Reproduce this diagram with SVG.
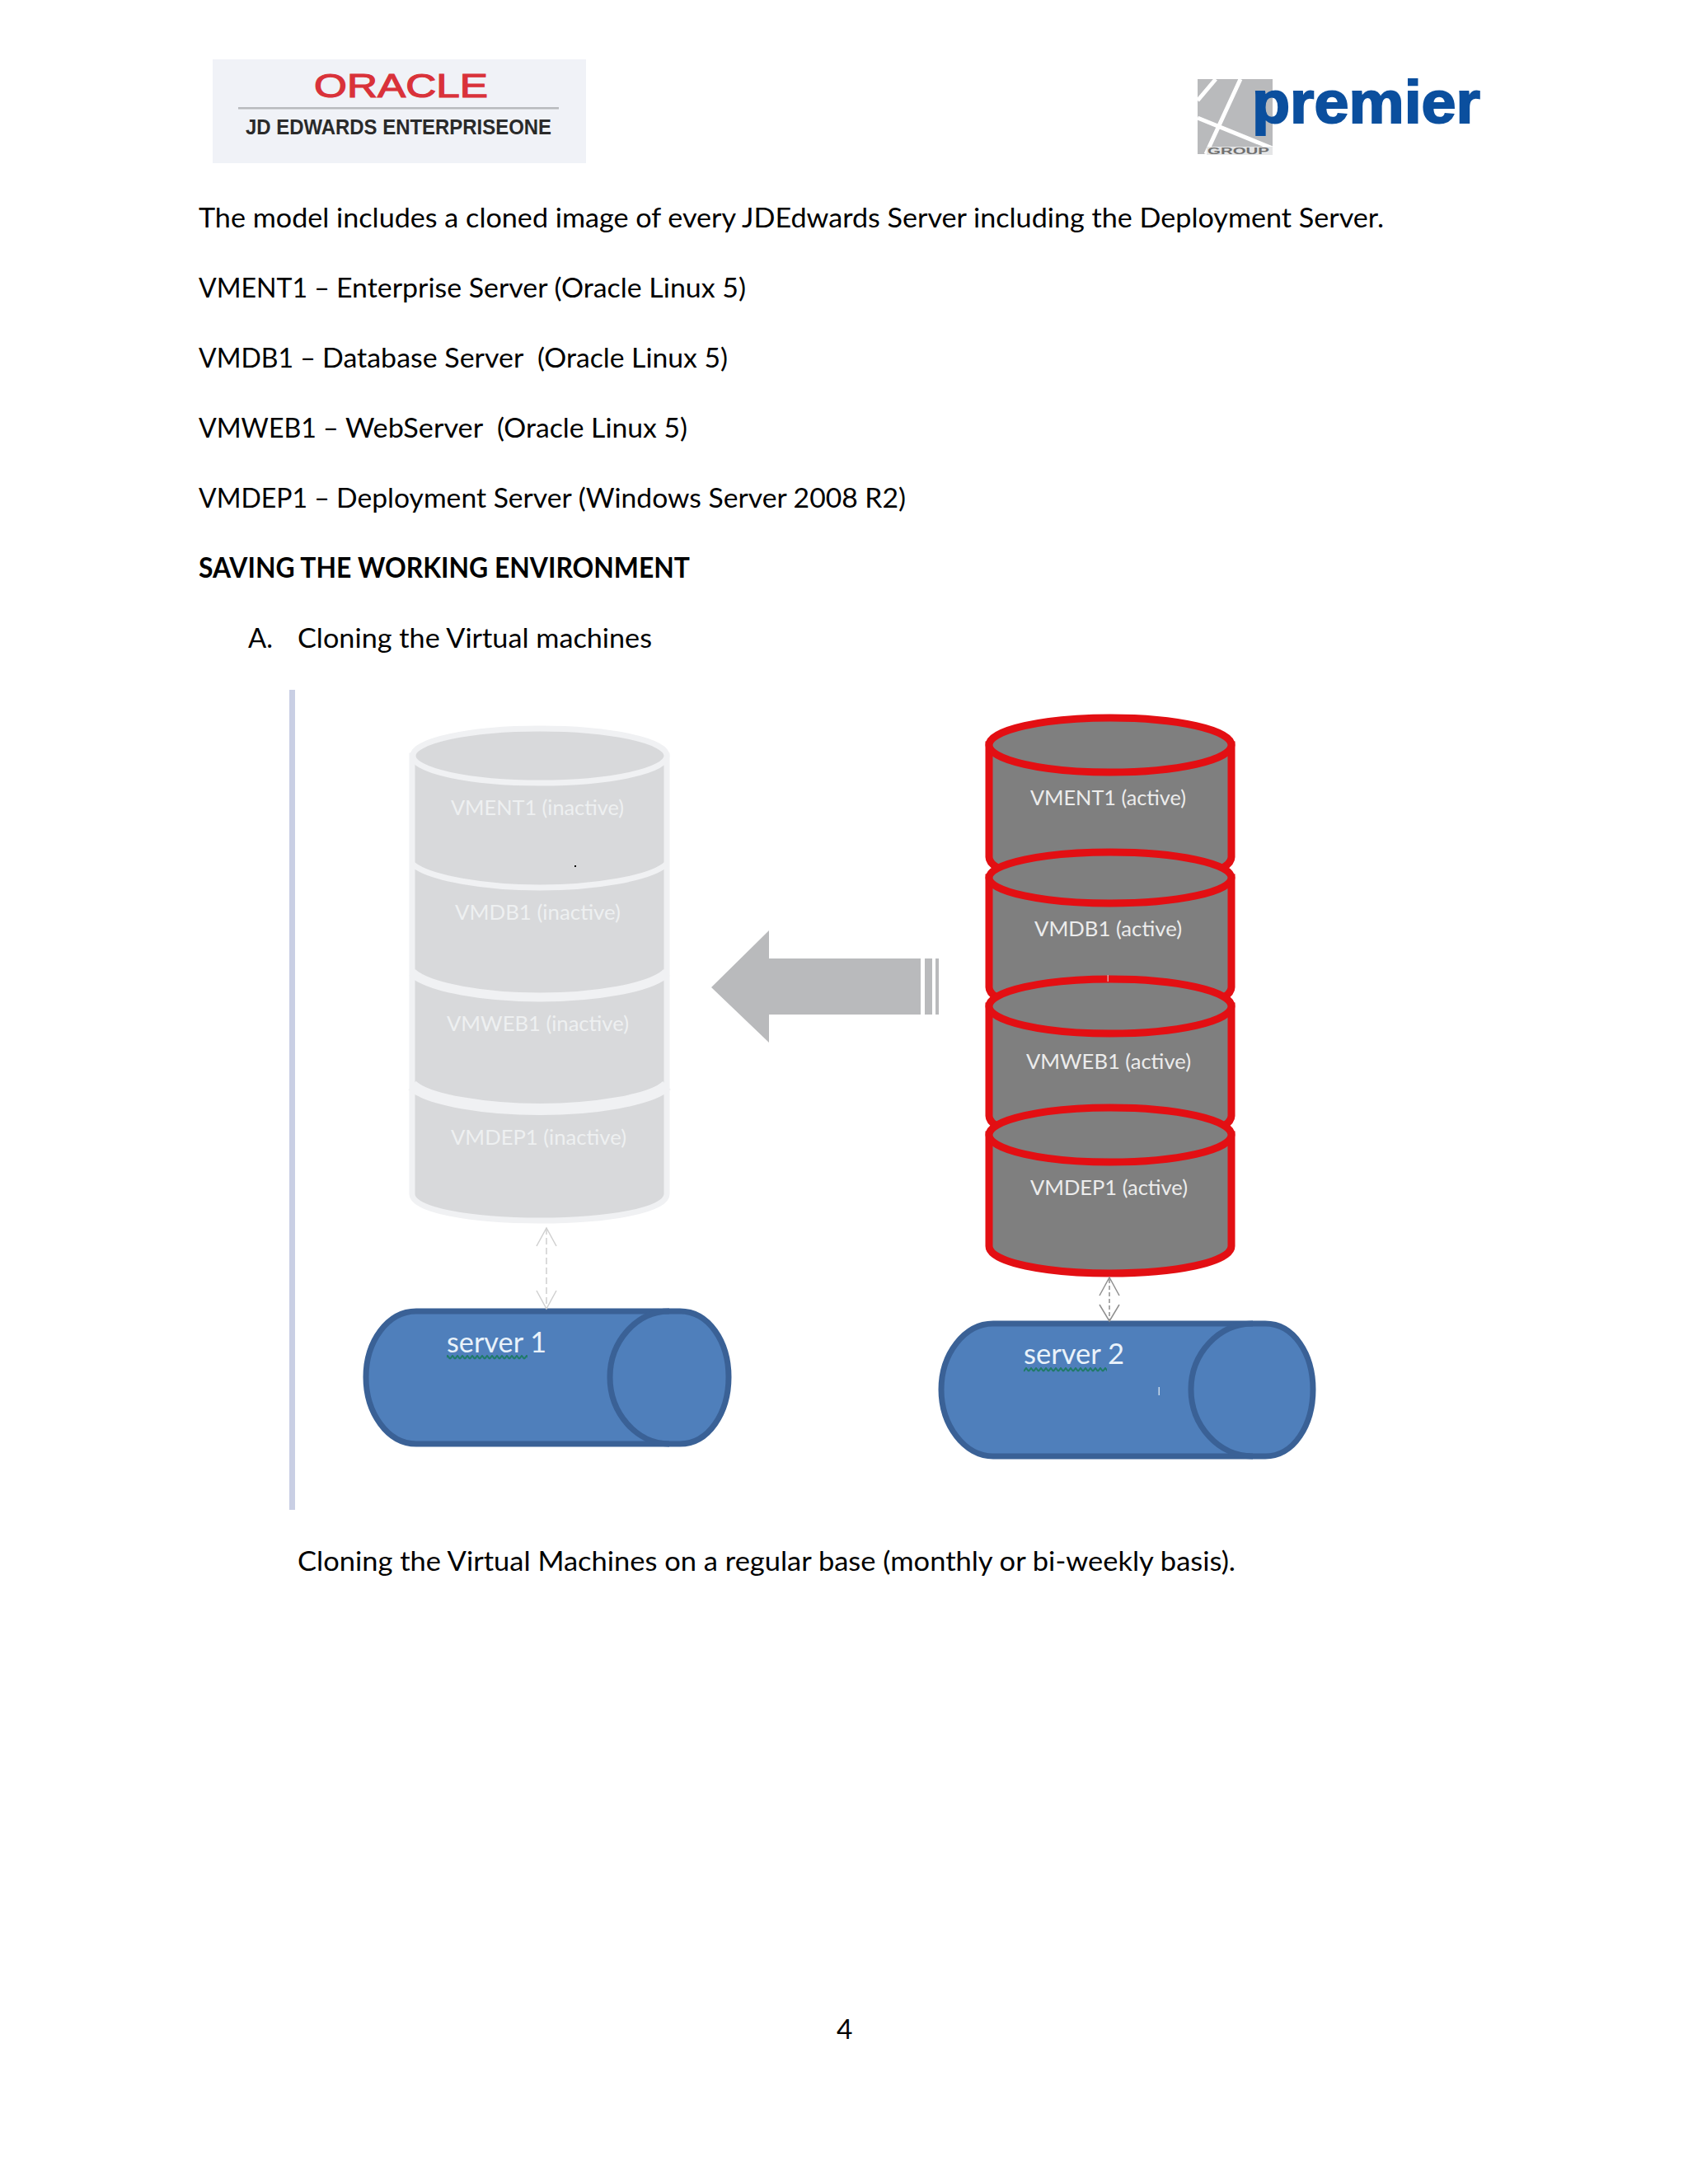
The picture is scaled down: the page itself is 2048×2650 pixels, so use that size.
<svg xmlns="http://www.w3.org/2000/svg" width="2048" height="2650" viewBox="0 0 2048 2650">
<defs>
<style>
.body{font-family:"Lato","Liberation Sans",sans-serif;font-size:33.500px;fill:#000;white-space:pre}
.in{font-family:"Lato","Liberation Sans",sans-serif;font-size:25px;fill:#eef0f1}
.ac{font-family:"Lato","Liberation Sans",sans-serif;font-size:25px;fill:#ececec}
.srv{font-family:"Lato","Liberation Sans",sans-serif;font-size:34px;fill:#e9f2fa}
.can-i{fill:#d8d9db;stroke:#f0f1f3;stroke-width:7}
.sep-i{fill:none;stroke:#f0f1f3}
.can-a{fill:#7f7f7f;stroke:#e30f13;stroke-width:9}
.can-s{fill:#4f7fbb;stroke:#3a6196;stroke-width:7}
.inner{fill:none}
.link{fill:none;stroke:#d0d0d0;stroke-width:1.500}
.link2{fill:none;stroke:#8f8f8f;stroke-width:1.500}
</style>
<pattern id="squiggle" x="0" y="0" width="6" height="6" patternUnits="userSpaceOnUse">
<path d="M0 5L3 1L6 5" fill="none" stroke="#1f7a68" stroke-width="2"/>
</pattern>
</defs>
<rect width="2048" height="2650" fill="#fff"/>
<g id="logo-oracle">
<rect x="258" y="72" width="453" height="126" fill="#f0f2f7"/>
<text x="381" y="118" font-family="Liberation Sans,sans-serif" font-size="40" fill="#d9323a" stroke="#d9323a" stroke-width="1.200" textLength="211" lengthAdjust="spacingAndGlyphs">ORACLE</text>
<rect x="289" y="130" width="389" height="2.500" fill="#b8babd"/>
<text x="298" y="163" font-family="Liberation Sans,sans-serif" font-size="26.500" font-weight="bold" fill="#2a2a2a" textLength="371" lengthAdjust="spacingAndGlyphs">JD EDWARDS ENTERPRISEONE</text>
</g>
<g id="logo-premier">
<rect x="1453" y="96" width="91" height="91" fill="#b9babc"/>
<path d="M1475 96L1453 122M1505 96L1463 187M1453 143L1544 180" stroke="#fff" stroke-width="5" fill="none"/>
<rect x="1464" y="178" width="80" height="10" fill="#e4e5e6"/>
<text x="1465" y="187" font-family="Liberation Sans,sans-serif" font-size="11.500" font-weight="bold" fill="#707070" textLength="75" lengthAdjust="spacingAndGlyphs">GROUP</text>
<text x="1519" y="149" font-family="Liberation Sans,sans-serif" font-size="72" font-weight="bold" fill="#0b4f9e" stroke="#0b4f9e" stroke-width="2" textLength="277" lengthAdjust="spacingAndGlyphs">premier</text>
</g>
<g id="body-text">
<text class="body" x="241" y="276" textLength="1438" lengthAdjust="spacingAndGlyphs">The model includes a cloned image of every JDEdwards Server including the Deployment Server.</text>
<text class="body" y="361"><tspan x="241" textLength="167" lengthAdjust="spacingAndGlyphs">VMENT1 – </tspan><tspan x="408" textLength="497" lengthAdjust="spacingAndGlyphs">Enterprise Server (Oracle Linux 5)</tspan></text>
<text class="body" y="446"><tspan x="241" textLength="150" lengthAdjust="spacingAndGlyphs">VMDB1 – </tspan><tspan x="391" textLength="261" lengthAdjust="spacingAndGlyphs">Database Server  </tspan><tspan x="652" textLength="231" lengthAdjust="spacingAndGlyphs">(Oracle Linux 5)</tspan></text>
<text class="body" y="531"><tspan x="241" textLength="178" lengthAdjust="spacingAndGlyphs">VMWEB1 – </tspan><tspan x="419" textLength="184" lengthAdjust="spacingAndGlyphs">WebServer  </tspan><tspan x="603" textLength="231" lengthAdjust="spacingAndGlyphs">(Oracle Linux 5)</tspan></text>
<text class="body" y="616"><tspan x="241" textLength="167" lengthAdjust="spacingAndGlyphs">VMDEP1 – </tspan><tspan x="408" textLength="691" lengthAdjust="spacingAndGlyphs">Deployment Server (Windows Server 2008 R2)</tspan></text>
<text class="body" x="241" y="701" font-weight="bold" textLength="596" lengthAdjust="spacingAndGlyphs">SAVING THE WORKING ENVIRONMENT</text>
<text class="body" x="301" y="786" textLength="30" lengthAdjust="spacingAndGlyphs">A.</text>
<text class="body" x="361" y="786" textLength="430" lengthAdjust="spacingAndGlyphs">Cloning the Virtual machines</text>
<text class="body" x="361" y="1906" textLength="1138" lengthAdjust="spacingAndGlyphs">Cloning the Virtual Machines on a regular base (monthly or bi-weekly basis).</text>
<text class="body" x="1015" y="2474">4</text>
</g>
<rect id="margin-bar" x="351" y="837" width="7" height="995" fill="#c9cfe4"/>
<g id="stack-inactive">
<path class="can-i" d="M500 917V1449C500 1468 570 1481 655 1481S809 1468 809 1449V917Z"/>
<ellipse class="can-i" cx="655" cy="917" rx="154" ry="33"/>
<path class="sep-i" stroke-width="7" d="M500 1048C520 1066 590 1077 655 1077S790 1066 809 1048"/>
<path class="sep-i" stroke-width="11" d="M500 1180C520 1199 590 1210 655 1210S790 1199 809 1180"/>
<path class="sep-i" stroke-width="14" d="M500 1317C520 1335 590 1346 655 1346S790 1335 809 1317"/>
<text class="in" x="547" y="989" textLength="210" lengthAdjust="spacingAndGlyphs">VMENT1 (inactive)</text>
<text class="in" x="552" y="1116" textLength="201" lengthAdjust="spacingAndGlyphs">VMDB1 (inactive)</text>
<text class="in" x="542" y="1251" textLength="221" lengthAdjust="spacingAndGlyphs">VMWEB1 (inactive)</text>
<text class="in" x="547" y="1389" textLength="213" lengthAdjust="spacingAndGlyphs">VMDEP1 (inactive)</text>
<rect x="697" y="1050" width="2" height="2" fill="#000"/>
</g>
<g id="stack-active">
<path class="can-a" d="M1200 904V1040C1200 1060 1270 1075 1347 1075S1494 1060 1494 1040V904Z"/>
<ellipse class="can-a" cx="1347" cy="904" rx="147" ry="33"/>
<path class="can-a" d="M1200 1065V1198C1200 1218 1270 1232 1347 1232S1494 1218 1494 1198V1065Z"/>
<ellipse class="can-a" cx="1347" cy="1065" rx="147" ry="31"/>
<path class="can-a" d="M1200 1221V1354C1200 1374 1270 1388 1347 1388S1494 1374 1494 1354V1221Z"/>
<ellipse class="can-a" cx="1347" cy="1221" rx="147" ry="33"/>
<path class="can-a" d="M1200 1377V1512C1200 1532 1270 1545 1347 1545S1494 1532 1494 1512V1377Z"/>
<ellipse class="can-a" cx="1347" cy="1377" rx="147" ry="33"/>
<rect x="1343.500" y="1183" width="1.500" height="8" fill="#d9a0a0"/>
<text class="ac" x="1250" y="977" textLength="189" lengthAdjust="spacingAndGlyphs">VMENT1 (active)</text>
<text class="ac" x="1255" y="1136" textLength="179" lengthAdjust="spacingAndGlyphs">VMDB1 (active)</text>
<text class="ac" x="1245" y="1297" textLength="200" lengthAdjust="spacingAndGlyphs">VMWEB1 (active)</text>
<text class="ac" x="1250" y="1450" textLength="191" lengthAdjust="spacingAndGlyphs">VMDEP1 (active)</text>
</g>
<g id="clone-arrow" fill="#b9babc">
<path d="M863 1198L933 1129V1163H1117V1231H933V1265Z"/>
<rect x="1122" y="1163" width="9" height="68"/>
<rect x="1135" y="1163" width="4" height="68"/>
</g>
<g id="server1">
<path class="can-s" d="M505 1591H825C860 1591 884 1628 884 1671S860 1752 825 1752H505C470 1752 444 1714 444 1671S470 1591 505 1591Z"/>
<path class="can-s inner" d="M812 1591C772 1591 740 1628 740 1671S772 1752 812 1752"/>
<text class="srv" x="542" y="1641" textLength="121" lengthAdjust="spacingAndGlyphs">server 1</text>
<rect x="542" y="1644" width="98" height="6" fill="url(#squiggle)"/>
</g>
<g id="server2">
<path class="can-s" d="M1205 1606H1535C1570 1606 1593 1643 1593 1686S1570 1767 1535 1767H1205C1170 1767 1142 1729 1142 1686S1170 1606 1205 1606Z"/>
<path class="can-s inner" d="M1520 1606C1478 1606 1445 1643 1445 1686S1478 1767 1520 1767"/>
<text class="srv" x="1242" y="1655" textLength="122" lengthAdjust="spacingAndGlyphs">server 2</text>
<rect x="1242" y="1656" width="101" height="6" fill="url(#squiggle)" transform="translate(0 3)"/>
<rect x="1405.500" y="1683" width="1.500" height="10" fill="#c9d9ea"/>
</g>
<g id="connectors">
<path class="link" stroke-dasharray="8 4" d="M663 1490V1588"/>
<path class="link" d="M651 1512L663 1490L675 1512M651 1566L663 1588L675 1566"/>
<path class="link2" stroke-dasharray="5 3" d="M1346 1552V1602"/>
<path class="link2" d="M1334 1572L1346 1550L1358 1572M1334 1583L1346 1603L1358 1583"/>
</g>
</svg>
